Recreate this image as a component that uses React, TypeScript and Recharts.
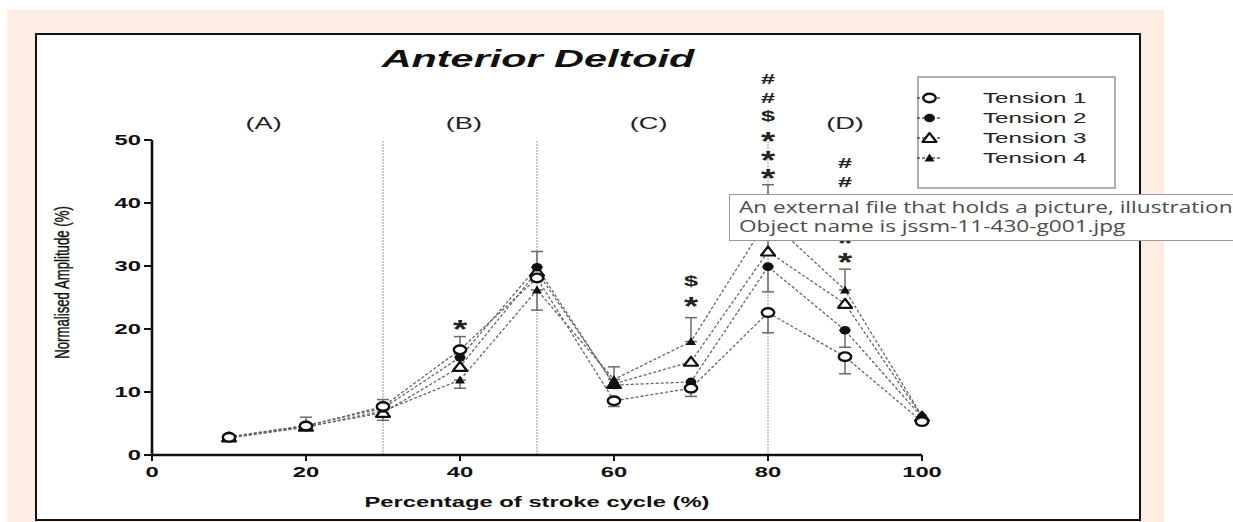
import React from 'react';
import { LineChart, Line, XAxis, YAxis, ErrorBar, ReferenceLine, ReferenceDot } from 'recharts';

// Percentage of stroke cycle sampled
const strokePercent = [10, 20, 30, 40, 50, 60, 70, 80, 90, 100];

// Normalised amplitude (%) per tension level
const tension1 = [2.8, 4.6, 7.7, 16.7, 28.1, 8.6, 10.6, 22.6, 15.6, 5.3];
const tension2 = [2.9, 4.7, 7.4, 15.5, 29.8, 11.1, 11.6, 29.9, 19.8, 6.0];
const tension3 = [2.8, 4.5, 6.7, 14.0, 29.1, 11.3, 14.8, 32.3, 24.0, 6.1];
const tension4 = [2.7, 4.4, 7.0, 11.9, 26.2, 12.0, 18.0, 37.5, 26.2, 6.2];

// Error bars as [below, above]; null where no bar is drawn
const err1 = [null, [0, 1.4], [0, 1.1], [0, 2.1], null, [0.9, 0], [1.3, 0], [3.2, 0], [2.7, 0], null];
const err2 = [null, null, null, null, [0, 2.5], null, null, [4.0, 0], [2.7, 0], null];
const err3 = [null, null, [1.2, 0], null, null, null, null, null, null, null];
const err4 = [null, null, null, [1.3, 0], [3.2, 0], [0, 2.0], [0, 3.8], [5.4, 5.4], [0, 3.3], null];

const seriesNames = ['Tension 1', 'Tension 2', 'Tension 3', 'Tension 4'];

// Significance markers: position and symbols stacked bottom-up
const sigX = [40, 70, 80, 90];
const sigBase = [21, 24.6, 44.9, 31.6];
const sigSymbols = [
  ['*'],
  ['*', '$'],
  ['*', '*', '*', '$', '#', '#'],
  ['*', '*', '*', '$', '#', '#'],
];

// Stroke-cycle phases
const phaseLabels = ['(A)', '(B)', '(C)', '(D)'];
const phaseCentres = [14.5, 40.5, 64.5, 90];
const phaseDividers = [30, 50, 80];

const xTicks = [0, 20, 40, 60, 80, 100];
const yTicks = [0, 10, 20, 30, 40, 50];

const data = strokePercent.map((x, i) => ({
  x,
  t1: tension1[i],
  t2: tension2[i],
  t3: tension3[i],
  t4: tension4[i],
  e1: err1[i],
  e2: err2[i],
  e3: err3[i],
  e4: err4[i],
}));

const FONT = '"Liberation Sans", Arial, Helvetica, sans-serif';
const S = 1.7; // horizontal stretch of the figure's lettering
const INK = '#111';

type P = { cx?: number; cy?: number };

const OpenCircle = ({ cx = 0, cy = 0 }: P) => (
  <ellipse cx={cx} cy={cy} rx={6.2} ry={4.3} fill="#fff" stroke={INK} strokeWidth={2.4} />
);
const FilledCircle = ({ cx = 0, cy = 0 }: P) => (
  <ellipse cx={cx} cy={cy} rx={5.4} ry={4.3} fill={INK} />
);
const OpenTriangle = ({ cx = 0, cy = 0 }: P) => (
  <polygon
    points={`${cx},${cy - 5} ${cx + 7},${cy + 4} ${cx - 7},${cy + 4}`}
    fill="#fff"
    stroke={INK}
    strokeWidth={2.2}
    strokeLinejoin="round"
  />
);
const FilledTriangle = ({ cx = 0, cy = 0 }: P) => (
  <polygon points={`${cx},${cy - 4.5} ${cx + 5},${cy + 3.5} ${cx - 5},${cy + 3.5}`} fill={INK} />
);

const markers = [OpenCircle, FilledCircle, OpenTriangle, FilledTriangle];
const valueKeys = ['t1', 't2', 't3', 't4'];
const errKeys = ['e1', 'e2', 'e3', 'e4'];

const XTick = ({ x, y, payload }: any) => (
  <text
    transform={`translate(${x},${y + 14}) scale(${S},1)`}
    textAnchor="middle"
    fontFamily={FONT}
    fontWeight="bold"
    fontSize={14}
    fill={INK}
  >
    {payload.value}
  </text>
);

const YTick = ({ x, y, payload }: any) => (
  <text
    transform={`translate(${x},${y + 5}) scale(${S},1)`}
    textAnchor="end"
    fontFamily={FONT}
    fontWeight="bold"
    fontSize={14}
    fill={INK}
  >
    {payload.value}
  </text>
);

const YLabel = ({ viewBox }: any) => {
  const cx = viewBox.x - 30;
  const cy = viewBox.y + viewBox.height / 2 - 15;
  return (
    <text
      transform={`translate(${cx},${cy}) rotate(-90) scale(1,1.6)`}
      textAnchor="middle"
      dy={4.5}
      fontFamily={FONT}
      fontSize={13.2}
      fill={INK}
      stroke={INK}
      strokeWidth={0.25}
    >
      Normalised Amplitude (%)
    </text>
  );
};

const XLabel = ({ viewBox }: any) => {
  const cx = viewBox.x + viewBox.width / 2;
  return (
    <text
      transform={`translate(${cx},507) scale(${S},1)`}
      textAnchor="middle"
      fontFamily={FONT}
      fontWeight="bold"
      fontSize={14}
      fill={INK}
    >
      Percentage of stroke cycle (%)
    </text>
  );
};

const PhaseLabel = (label: string) => (p: any) => (
  <text
    transform={`translate(${p.cx},${p.cy + 5}) scale(${S},1)`}
    textAnchor="middle"
    fontFamily={FONT}
    fontSize={16}
    fill="#222"
  >
    {label}
  </text>
);

const SigStack = (symbols: string[]) => (p: any) => (
  <g>
    {symbols.map((s, i) => {
      const c = p.cy - i * 18.6;
      const star = s === '*';
      return (
        <text
          key={i}
          transform={`translate(${p.cx},${c + (star ? 15 : 5)}) scale(${star ? 1.4 : 1.8},1)`}
          textAnchor="middle"
          fontFamily={FONT}
          fontWeight="bold"
          fontSize={star ? 26 : 14}
          fill="#222"
        >
          {s}
        </text>
      );
    })}
  </g>
);

export default function App() {
  return (
    <div
      style={{
        position: 'fixed',
        left: 0,
        top: 0,
        width: 1233,
        height: 522,
        overflow: 'hidden',
        background: '#fff',
      }}
    >
      {/* page backdrop and figure frame */}
      <div style={{ position: 'absolute', left: 7, top: 10, width: 1157, height: 520, background: '#fdede3' }} />
      <div
        style={{
          position: 'absolute',
          left: 35,
          top: 33,
          width: 1106,
          height: 488,
          background: '#fff',
          border: '2px solid #111',
          boxSizing: 'border-box',
        }}
      />

      <div style={{ position: 'absolute', left: 0, top: 0 }}>
        <LineChart width={1233} height={522} data={data} margin={{ top: 140, right: 311, bottom: 37, left: 92 }}>
          <XAxis
            dataKey="x"
            type="number"
            domain={[0, 100]}
            ticks={xTicks}
            height={30}
            tickSize={6}
            tickMargin={2}
            axisLine={{ stroke: INK, strokeWidth: 2.4 }}
            tickLine={{ stroke: INK, strokeWidth: 2 }}
            tick={<XTick />}
            label={<XLabel />}
          />
          <YAxis
            type="number"
            domain={[0, 50]}
            ticks={yTicks}
            width={60}
            tickSize={8}
            tickMargin={3}
            axisLine={{ stroke: INK, strokeWidth: 2.6 }}
            tickLine={{ stroke: INK, strokeWidth: 2 }}
            tick={<YTick />}
            label={<YLabel />}
          />
          {phaseDividers.map((x) => (
            <ReferenceLine
              key={x}
              x={x}
              stroke="#bdbdbd"
              strokeWidth={1.6}
              strokeDasharray="2 1"
              segment={[{ x, y: 0 }, { x, y: 50.5 }]}
              ifOverflow="visible"
            />
          ))}
          {[3, 2, 1, 0].map((i) => {
            const Marker = markers[i];
            return (
              <Line
                key={valueKeys[i]}
                type="linear"
                dataKey={valueKeys[i]}
                name={seriesNames[i]}
                stroke="#666"
                strokeWidth={1.3}
                strokeDasharray="3 2"
                isAnimationActive={false}
                activeDot={false}
                dot={(p: any) => <Marker key={`${valueKeys[i]}-${p.index}`} cx={p.cx} cy={p.cy} />}
              >
                <ErrorBar dataKey={errKeys[i]} direction="y" width={6} stroke="#6a6a6a" strokeWidth={1.5} />
              </Line>
            );
          })}
          {phaseLabels.map((label, i) => (
            <ReferenceDot
              key={label}
              x={phaseCentres[i]}
              y={52.5}
              r={0}
              ifOverflow="visible"
              shape={PhaseLabel(label)}
            />
          ))}
          {sigX.map((x, i) => (
            <ReferenceDot
              key={`sig-${x}`}
              x={x}
              y={sigBase[i]}
              r={0}
              ifOverflow="visible"
              shape={SigStack(sigSymbols[i])}
            />
          ))}
        </LineChart>
      </div>

      {/* title and legend */}
      <svg
        width={1233}
        height={522}
        style={{ position: 'absolute', left: 0, top: 0, pointerEvents: 'none' }}
      >
        <text
          transform={`translate(538,67) scale(1.8,1)`}
          textAnchor="middle"
          fontFamily={FONT}
          fontWeight="bold"
          fontStyle="italic"
          fontSize={23}
          fill={INK}
        >
          Anterior Deltoid
        </text>
        <rect x={918} y={77} width={197} height={111} fill="#fff" stroke="#8f8f8f" strokeWidth={1.4} />
        {seriesNames.map((name, i) => {
          const Marker = markers[i];
          const y = 98 + i * 20;
          return (
            <g key={name}>
              <line x1={917} x2={942} y1={y} y2={y} stroke="#5a5a5a" strokeWidth={1.3} strokeDasharray="3 2" />
              <Marker cx={929.5} cy={y} />
              <text
                transform={`translate(983,${y + 5}) scale(1.67,1)`}
                fontFamily={FONT}
                fontSize={14.5}
                fill="#222"
              >
                {name}
              </text>
            </g>
          );
        })}
      </svg>

      {/* hover tip over the figure */}
      <div
        style={{
          position: 'absolute',
          left: 729,
          top: 194,
          width: 600,
          height: 47,
          boxSizing: 'border-box',
          border: '1px solid #9a9a9a',
          background: '#fff',
          padding: '2px 0 0 9px',
          fontFamily: '"Open Sans", "Noto Sans", sans-serif',
          fontSize: 17,
          lineHeight: '19px',
          color: '#4d4d4d',
          whiteSpace: 'nowrap',
        }}
      >
        <div style={{ transform: 'scaleX(1.33)', transformOrigin: 'left center' }}>
          An external file that holds a picture, illustration, etc.
        </div>
        <div style={{ transform: 'scaleX(1.33)', transformOrigin: 'left center' }}>
          Object name is jssm-11-430-g001.jpg
        </div>
      </div>
    </div>
  );
}
